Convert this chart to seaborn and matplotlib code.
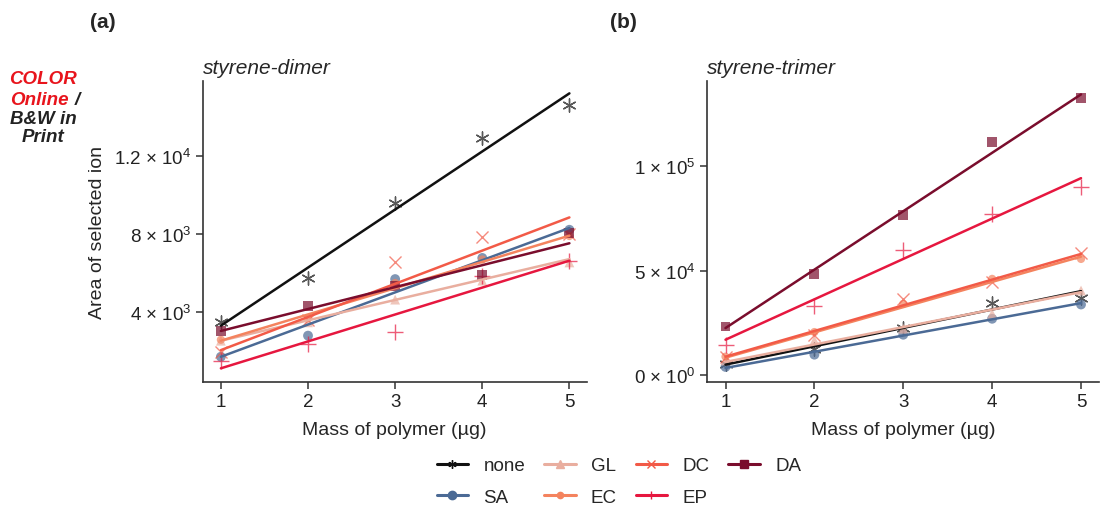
import numpy as np
import pandas as pd
import matplotlib
matplotlib.use("Agg")
import matplotlib.pyplot as plt
from matplotlib.lines import Line2D
import seaborn as sns

# ---------------- data ----------------
mass = [1, 2, 3, 4, 5]
series = ["none", "SA", "GL", "EC", "DC", "EP", "DA"]

# panel (a): styrene-dimer
dimer_none = [3490, 5750, 9570, 12920, 14610]
dimer_SA = [1730, 2810, 5700, 6780, 8220]
dimer_GL = [2550, 3490, 4650, 5620, 6550]
dimer_EC = [2600, 3700, 5500, 6700, 7900]
dimer_DC = [1960, 3600, 6550, 7860, 8000]
dimer_EP = [1530, 2380, 2980, 5850, 6640]
dimer_DA = [3060, 4310, 5360, 5910, 8050]
# fitted lines (value at mass 1 and mass 5)
dimer_fit = {"none": [3320, 15190], "SA": [1730, 8310], "GL": [2550, 6720],
             "EC": [2550, 7920], "DC": [2070, 8850], "EP": [1140, 6640],
             "DA": [3050, 7530]}

# panel (b): styrene-trimer
trimer_none = [5570, 12710, 22570, 34470, 37000]
trimer_SA = [4000, 9860, 19380, 27000, 33810]
trimer_GL = [7140, 16670, 22240, 29380, 40480]
trimer_EC = [8900, 20660, 34140, 46050, 55570]
trimer_DC = [8760, 19050, 36520, 44760, 58280]
trimer_EP = [14290, 33330, 60000, 77000, 89700]
trimer_DA = [23330, 48430, 76530, 111600, 132240]
trimer_fit = {"none": [5100, 40190], "SA": [3520, 34470], "GL": [6380, 39710],
              "EC": [8430, 56670], "DC": [8900, 57950], "EP": [17000, 94140],
              "DA": [22570, 134140]}
fit_x = [1, 5]

dimer_ticks = [4000, 8000, 12000]
dimer_ticklabels = ["4 × 10$^{3}$", "8 × 10$^{3}$", "1.2 × 10$^{4}$"]
trimer_ticks = [0, 50000, 100000]
trimer_ticklabels = ["0 × 10$^{0}$", "5 × 10$^{4}$", "1 × 10$^{5}$"]

colors = {"none": "#111111", "SA": "#4b6a95", "GL": "#e9ae9f", "EC": "#f4835e",
          "DC": "#f25a47", "EP": "#e6173f", "DA": "#7a0d2d"}
markers = {"none": (6, 2, 0), "SA": "o", "GL": "^", "EC": "o", "DC": "x",
           "EP": "+", "DA": "s"}
msizes = {"none": 90, "SA": 50, "GL": 50, "EC": 35, "DC": 75, "EP": 120, "DA": 50}

dimer = {"none": dimer_none, "SA": dimer_SA, "GL": dimer_GL, "EC": dimer_EC,
         "DC": dimer_DC, "EP": dimer_EP, "DA": dimer_DA}
trimer = {"none": trimer_none, "SA": trimer_SA, "GL": trimer_GL, "EC": trimer_EC,
          "DC": trimer_DC, "EP": trimer_EP, "DA": trimer_DA}

# ---------------- style ----------------
sns.set_theme(style="ticks")
plt.rcParams["font.family"] = ["Liberation Sans", "DejaVu Sans"]
plt.rcParams["mathtext.fontset"] = "custom"
plt.rcParams["mathtext.rm"] = "Liberation Sans"
plt.rcParams["mathtext.it"] = "Liberation Sans:italic"
plt.rcParams["mathtext.bf"] = "Liberation Sans:bold"

fig = plt.figure(figsize=(11.01, 5.10), dpi=100)
ax_a = fig.add_axes([0.184, 0.249, 0.349, 0.590])
ax_b = fig.add_axes([0.642, 0.249, 0.356, 0.590])


def draw(ax, data, fits, ylim, ticks, ticklabels, title):
    pts = pd.DataFrame([(s, m, v) for s in series for m, v in zip(mass, data[s])],
                       columns=["series", "mass", "area"])
    lines = pd.DataFrame([(s, m, v) for s in series for m, v in zip(fit_x, fits[s])],
                         columns=["series", "mass", "area"])
    for s in series:
        sub = pts[pts.series == s]
        mk = markers[s]
        filled = s in ("SA", "GL", "EC", "DA")
        sns.scatterplot(data=sub, x="mass", y="area", ax=ax, marker=mk,
                        s=msizes[s], color=colors[s], alpha=0.7,
                        linewidth=0 if filled else 1.0,
                        edgecolor=colors[s] if not filled else "none",
                        legend=False, zorder=2)
    for s in series:
        sub = lines[lines.series == s]
        sns.lineplot(data=sub, x="mass", y="area", ax=ax, color=colors[s],
                     linewidth=1.8, legend=False, zorder=3)
    ax.set_xlim(0.79, 5.2)
    ax.set_ylim(*ylim)
    ax.set_xticks(mass)
    ax.set_xticklabels([str(m) for m in mass], fontsize=13.5)
    ax.set_yticks(ticks)
    ax.set_yticklabels(ticklabels, fontsize=13.5)
    ax.set_xlabel("Mass of polymer (µg)", fontsize=14, labelpad=8)
    ax.set_ylabel("")
    ax.set_title(title, loc="left", fontstyle="italic", fontsize=15, pad=6)
    for sp in ("top", "right"):
        ax.spines[sp].set_visible(False)
    for sp in ("left", "bottom"):
        ax.spines[sp].set_color("#333333")
        ax.spines[sp].set_linewidth(1.2)
    ax.tick_params(direction="out", length=5, width=1.1, color="#333333",
                   labelcolor="#222222", pad=3)


draw(ax_a, dimer, dimer_fit, (440, 15816), dimer_ticks, dimer_ticklabels, "styrene-dimer")
draw(ax_b, trimer, trimer_fit, (-3200, 140480), trimer_ticks, trimer_ticklabels, "styrene-trimer")
ax_a.set_ylabel("Area of selected ion", fontsize=14, labelpad=6)

fig.text(90 / 1101, 1 - 22 / 510, "(a)", fontsize=15, fontweight="bold", va="center")
fig.text(610 / 1101, 1 - 22 / 510, "(b)", fontsize=15, fontweight="bold", va="center")

# colour note
kw = dict(fontsize=13.5, fontweight="bold", fontstyle="italic", va="center")
fig.text(43 / 1101, 1 - 80 / 510, "COLOR", color="#e8141c", ha="center", **kw)
fig.text(69 / 1101, 1 - 101 / 510, "Online", color="#e8141c", ha="right", **kw)
fig.text(75 / 1101, 1 - 101 / 510, "/", color="#222222", ha="left", **kw)
fig.text(43 / 1101, 1 - 120 / 510, "B&W in", color="#222222", ha="center", **kw)
fig.text(43 / 1101, 1 - 138 / 510, "Print", color="#222222", ha="center", **kw)

# legend
handles = []
for s in series:
    handles.append(Line2D([0], [0], color=colors[s], linewidth=2.2, marker=markers[s],
                          markersize=6 if s != "EC" else 4.5,
                          markeredgewidth=1.0))
fig.legend(handles, series, loc="center", bbox_to_anchor=(0.562, 0.054), ncol=4,
           frameon=False, fontsize=13.5, handlelength=1.7, handletextpad=0.8,
           columnspacing=1.0, labelspacing=0.75, borderpad=0.2)

fig.savefig("out.png", dpi=100)
